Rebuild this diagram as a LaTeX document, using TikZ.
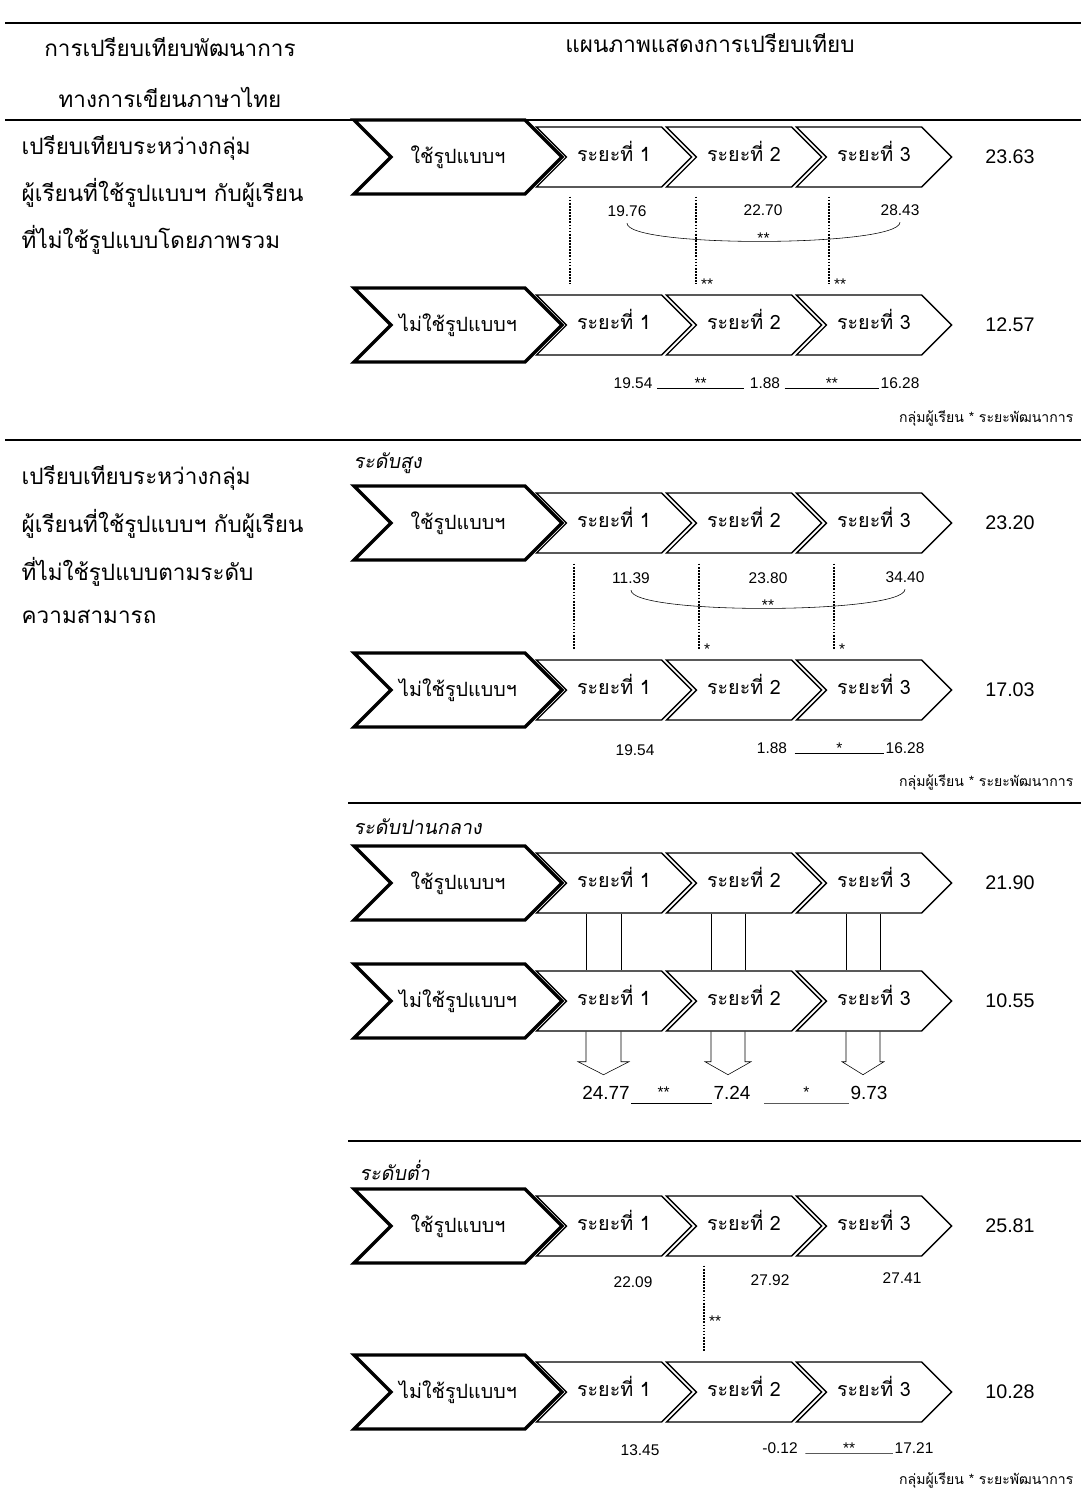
\documentclass[tikz,border=0pt]{standalone}
\usepackage{fontspec}
\setmainfont{Liberation Sans}
\newfontfamily\thai[Script=Thai]{Loma}
\newfontfamily\thaiit[Script=Thai,FakeSlant=0.18]{Loma}
\usetikzlibrary{shapes.symbols,calc}

\begin{document}
\begin{tikzpicture}[x=0.025cm,y=-0.025cm,
  every node/.style={inner sep=1pt},
  lead/.style={signal,signal from=west,signal to=east,signal pointer angle=90,draw,line width=2.4pt,fill=white,
    minimum width=5.2cm,minimum height=1.85cm,inner sep=0pt,font=\thai\fontsize{14}{16}\selectfont},
  stage/.style={signal,signal from=west,signal to=east,signal pointer angle=90,draw,line width=1pt,fill=white,
    minimum width=3.875cm,minimum height=1.5cm,inner sep=0pt,text height=9pt,text depth=2pt,
    font=\thai\fontsize{14}{16}\selectfont},
  total/.style={font=\fontsize{14}{16}\selectfont},
  mean/.style={font=\fontsize{11}{13}\selectfont},
  big mean/.style={font=\fontsize{13.5}{16}\selectfont},
  star/.style={font=\fontsize{11}{13}\selectfont,inner sep=0pt},
  link/.style={densely dotted,line width=1.2pt},
  rule/.style={line width=1.1pt},
  note/.style={font=\thai\fontsize{10}{12}\selectfont,anchor=east},
  level/.style={font=\thaiit\fontsize{14}{16}\selectfont,anchor=west},
  head/.style={font=\thai\fontsize{16}{18}\selectfont},
  topic/.style={font=\thai\fontsize{16}{18}\selectfont,anchor=west}]
  \useasboundingbox (0,0) rectangle (1081,1495);

  % table rules
  \draw[rule] (5,23) -- (1081,23);
  \draw[rule] (5,120) -- (1081,120);
  \draw[rule] (5,440) -- (1081,440);
  \draw[rule] (348,803) -- (1081,803);
  \draw[rule] (348,1141) -- (1081,1141);

  % header
  \node[head] (h1) at (170,47) {การเปรียบเทียบพัฒนาการ};
  \node[head] (h2) at (170,97) {ทางการเขียนภาษาไทย};
  \node[head] (h3) at (710,43) {แผนภาพแสดงการเปรียบเทียบ};

  % left column
  \node[topic] (tA1) at (20,148) {เปรียบเทียบระหว่างกลุ่ม};
  \node[topic] (tA2) at (20,193) {ผู้เรียนที่ใช้รูปแบบฯ กับผู้เรียน};
  \node[topic] (tA3) at (20,240) {ที่ไม่ใช้รูปแบบโดยภาพรวม};
  \node[topic] (tB1) at (20,478) {เปรียบเทียบระหว่างกลุ่ม};
  \node[topic] (tB2) at (20,524) {ผู้เรียนที่ใช้รูปแบบฯ กับผู้เรียน};
  \node[topic] (tB3) at (20,572) {ที่ไม่ใช้รูปแบบตามระดับ};
  \node[topic] (tB4) at (20,617) {ความสามารถ};

  % ---- overall
  \node[stage] (uA1) at (614,157) {ระยะที่ 1};
  \node[stage] (uA2) at (744,157) {ระยะที่ 2};
  \node[stage] (uA3) at (874,157) {ระยะที่ 3};
  \node[lead] (uA0) at (458,157) {ใช้รูปแบบฯ};
  \node[total] (uAt) at (1010,157) {23.63};

  \node[stage] (nA1) at (614,325) {ระยะที่ 1};
  \node[stage] (nA2) at (744,325) {ระยะที่ 2};
  \node[stage] (nA3) at (874,325) {ระยะที่ 3};
  \node[lead] (nA0) at (458,325) {ไม่ใช้รูปแบบฯ};
  \node[total] (nAt) at (1010,325) {12.57};

  \node[mean] (uAm1) at (627,211) {19.76};
  \node[mean] (uAm2) at (763,210) {22.70};
  \node[mean] (uAm3) at (900,210) {28.43};
  \draw ($(uAm1.south)+(0,5)$) .. controls +(0,25) and +(0,25) .. ($(uAm3.south)+(0,5)$)
    node[pos=0.5,star,anchor=south,yshift=-2pt] {**};

  \draw[link] ($(uA1.south)+(-44,9)$) -- ($(nA1.north)+(-44,-10)$);
  \draw[link] ($(uA2.south)+(-48,9)$) -- ($(nA2.north)+(-48,-10)$) node[star,anchor=base west,xshift=3pt,yshift=-3.5pt] {**};
  \draw[link] ($(uA3.south)+(-45,9)$) -- ($(nA3.north)+(-45,-10)$) node[star,anchor=base west,xshift=3pt,yshift=-3.5pt] {**};

  \node[mean] (nAm1) at (633,383) {19.54};
  \node[mean] (nAm2) at (765,383) {1.88};
  \node[mean] (nAm3) at (900,383) {16.28};
  \draw ($(nAm1.base east)+(3,0)$) -- node[star,anchor=south] {**} ($(nAm2.base west)+(-4,0)$);
  \draw ($(nAm2.base east)+(3,0)$) -- node[star,anchor=south] {**} ($(nAm3.base west)+(0,0)$);
  \node[note] (fA) at (1075,418) {กลุ่มผู้เรียน * ระยะพัฒนาการ};

  % ---- high level
  \node[level] (lB) at (352,463) {ระดับสูง};
  \node[stage] (uB1) at (614,523) {ระยะที่ 1};
  \node[stage] (uB2) at (744,523) {ระยะที่ 2};
  \node[stage] (uB3) at (874,523) {ระยะที่ 3};
  \node[lead] (uB0) at (458,523) {ใช้รูปแบบฯ};
  \node[total] (uBt) at (1010,523) {23.20};

  \node[stage] (nB1) at (614,690) {ระยะที่ 1};
  \node[stage] (nB2) at (744,690) {ระยะที่ 2};
  \node[stage] (nB3) at (874,690) {ระยะที่ 3};
  \node[lead] (nB0) at (458,690) {ไม่ใช้รูปแบบฯ};
  \node[total] (nBt) at (1010,690) {17.03};

  \node[mean] (uBm1) at (631,578) {11.39};
  \node[mean] (uBm2) at (768,578) {23.80};
  \node[mean] (uBm3) at (905,577) {34.40};
  \draw ($(uBm1.south)+(0,5)$) .. controls +(0,25) and +(0,25) .. ($(uBm3.south)+(0,5)$)
    node[pos=0.5,star,anchor=south,yshift=-2pt] {**};

  \draw[link] ($(uB1.south)+(-40,10)$) -- ($(nB1.north)+(-40,-10)$);
  \draw[link] ($(uB2.south)+(-45,10)$) -- ($(nB2.north)+(-45,-10)$) node[star,anchor=base west,xshift=3pt,yshift=-3.5pt] {*};
  \draw[link] ($(uB3.south)+(-40,10)$) -- ($(nB3.north)+(-40,-10)$) node[star,anchor=base west,xshift=3pt,yshift=-3.5pt] {*};

  \node[mean] (nBm1) at (635,750) {19.54};
  \node[mean] (nBm2) at (772,748) {1.88};
  \node[mean] (nBm3) at (905,748) {16.28};
  \draw ($(nBm2.base east)+(6,0)$) -- node[star,anchor=south] {*} ($(nBm3.base west)+(0,0)$);
  \node[note] (fB) at (1075,782) {กลุ่มผู้เรียน * ระยะพัฒนาการ};

  % ---- middle level
  \node[level] (lC) at (352,827) {ระดับปานกลาง};
  \node[stage] (uC1) at (614,883) {ระยะที่ 1};
  \node[stage] (uC2) at (744,883) {ระยะที่ 2};
  \node[stage] (uC3) at (874,883) {ระยะที่ 3};
  \node[lead] (uC0) at (458,883) {ใช้รูปแบบฯ};
  \node[total] (uCt) at (1010,883) {21.90};

  \node[stage] (nC1) at (614,1001) {ระยะที่ 1};
  \node[stage] (nC2) at (744,1001) {ระยะที่ 2};
  \node[stage] (nC3) at (874,1001) {ระยะที่ 3};
  \node[lead] (nC0) at (458,1001) {ไม่ใช้รูปแบบฯ};
  \node[total] (nCt) at (1010,1001) {10.55};

  \draw ($(uC1.south)+(-28,0)$) -- ($(nC1.north)+(-28,0)$);
  \draw ($(uC1.south)+(7,0)$) -- ($(nC1.north)+(7,0)$);
  \draw ($(uC2.south)+(-33,0)$) -- ($(nC2.north)+(-33,0)$);
  \draw ($(uC2.south)+(1,0)$) -- ($(nC2.north)+(1,0)$);
  \draw ($(uC3.south)+(-28,0)$) -- ($(nC3.north)+(-28,0)$);
  \draw ($(uC3.south)+(6,0)$) -- ($(nC3.north)+(6,0)$);

  \draw ($(nC1.south)+(-28,0)$) -- ++(0,30) -- ++(-8,0) -- ++(25.5,13) -- ++(25.5,-13) -- ++(-8,0) -- ++(0,-30);
  \draw ($(nC2.south)+(-33,0)$) -- ++(0,30) -- ++(-6,0) -- ++(23,13) -- ++(23,-13) -- ++(-6,0) -- ++(0,-30);
  \draw ($(nC3.south)+(-28,0)$) -- ++(0,30) -- ++(-4,0) -- ++(21,13) -- ++(21,-13) -- ++(-4,0) -- ++(0,-30);

  \node[big mean] (nCm1) at (606,1093) {24.77};
  \node[big mean] (nCm2) at (732,1093) {7.24};
  \node[big mean] (nCm3) at (869,1093) {9.73};
  \draw ($(nCm1.south east)+(0,2)$) -- node[star,anchor=south,pos=0.4,yshift=4pt] {**} ($(nCm2.south west)+(0,2)$);
  \draw ($(nCm2.south east)+(12,2)$) -- node[star,anchor=south,yshift=4pt] {*} ($(nCm3.south west)+(0,2)$);

  % ---- low level
  \node[level] (lD) at (358,1170) {ระดับต่ำ};
  \node[stage] (uD1) at (614,1226) {ระยะที่ 1};
  \node[stage] (uD2) at (744,1226) {ระยะที่ 2};
  \node[stage] (uD3) at (874,1226) {ระยะที่ 3};
  \node[lead] (uD0) at (458,1226) {ใช้รูปแบบฯ};
  \node[total] (uDt) at (1010,1226) {25.81};

  \node[stage] (nD1) at (614,1392) {ระยะที่ 1};
  \node[stage] (nD2) at (744,1392) {ระยะที่ 2};
  \node[stage] (nD3) at (874,1392) {ระยะที่ 3};
  \node[lead] (nD0) at (458,1392) {ไม่ใช้รูปแบบฯ};
  \node[total] (nDt) at (1010,1392) {10.28};

  \node[mean] (uDm1) at (633,1282) {22.09};
  \node[mean] (uDm2) at (770,1280) {27.92};
  \node[mean] (uDm3) at (902,1278) {27.41};

  \draw[link] ($(uD2.south)+(-40,9)$) -- node[pos=0.7,star,anchor=base west,xshift=3pt] {**} ($(nD2.north)+(-40,-9)$);

  \node[mean] (nDm1) at (640,1450) {13.45};
  \node[mean] (nDm2) at (780,1448) {-0.12};
  \node[mean] (nDm3) at (914,1448) {17.21};
  \draw ($(nDm2.base east)+(6,0)$) -- node[star,anchor=south] {**} ($(nDm3.base west)+(0,0)$);
  \node[note] (fD) at (1075,1480) {กลุ่มผู้เรียน * ระยะพัฒนาการ};
\end{tikzpicture}
\end{document}
